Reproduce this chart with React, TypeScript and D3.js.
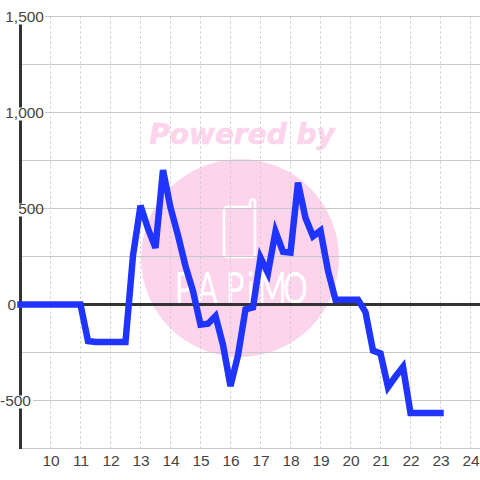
import { useEffect, useRef } from 'react';
import * as d3 from 'd3';

const hours = [
  9, 9.25, 9.5, 9.75, 10, 10.25, 10.5, 10.75, 11, 11.25, 11.5, 11.75, 12, 12.25, 12.5, 12.75,
  13, 13.25, 13.5, 13.75, 14, 14.25, 14.5, 14.75, 15, 15.25, 15.5, 15.75, 16, 16.25, 16.5, 16.75,
  17, 17.25, 17.5, 17.75, 18, 18.25, 18.5, 18.75, 19, 19.25, 19.5, 19.75, 20, 20.25, 20.5, 20.75,
  21, 21.25, 21.5, 21.75, 22, 22.25, 22.5, 22.75, 23,
];
const values = [
  0, 0, 0, 0, 0, 0, 0, 0, 0, -190, -195, -195, -195, -195, -195, 255,
  515, 395, 295, 700, 505, 360, 200, 70, -105, -100, -60, -210, -425, -265, -25, -15,
  245, 165, 380, 275, 270, 635, 450, 355, 385, 175, 25, 25, 25, 25, -40, -240,
  -255, -430, -375, -325, -565, -565, -565, -565, -565,
];
const xTicks = [10, 11, 12, 13, 14, 15, 16, 17, 18, 19, 20, 21, 22, 23, 24];
const yGrid = [-750, -500, -250, 250, 500, 750, 1000, 1250, 1500];
const yLabels = ['-500', '0', '500', '1,000', '1,500'];
const yLabelValues = [-500, 0, 500, 1000, 1500];

const width = 480;
const height = 480;

// letter positions of the squeezed logo word
const logoX = [175, 197, 226, 247, 258, 283];
const logoSqueeze = 0.7;

function App() {
  const svgRef = useRef<SVGSVGElement>(null);

  useEffect(() => {
    if (svgRef.current === null) return;

    const x = d3.scaleLinear().domain([9, 24.33]).range([20.5, 480.4]);
    const y = d3.scaleLinear().domain([-750, 1500]).range([448.5, 16.5]);

    const svg = d3.select(svgRef.current);
    svg.selectAll('*').remove();

    // watermark
    const logo = svg.append('g');
    logo.append('circle').attr('cx', 240).attr('cy', 258).attr('r', 99).attr('fill', '#fcd5ed');
    logo
      .append('text')
      .attr('x', 242)
      .attr('y', 144)
      .attr('text-anchor', 'middle')
      .attr('font-family', 'DejaVu Sans')
      .attr('font-weight', 'bold')
      .attr('font-style', 'italic')
      .attr('font-size', 28)
      .attr('fill', '#fcd5ed')
      .attr('stroke', '#fcd5ed')
      .attr('stroke-width', 0.6)
      .text('Powered by');
    logo
      .append('path')
      .attr('d', 'M228 207h22v-5a2.5 2.5 0 0 1 5 0v52a3 3 0 0 1-3 3h-25a3 3 0 0 1-3-3v-44a3 3 0 0 1 3-3z')
      .attr('fill', 'none')
      .attr('stroke', '#fff')
      .attr('stroke-width', 2.5);
    logo
      .append('text')
      .attr('transform', `scale(${logoSqueeze},1)`)
      .attr('x', logoX.map((d) => d / logoSqueeze).join(' '))
      .attr('y', 304)
      .attr('font-family', 'Lato')
      .attr('font-size', 44)
      .attr('fill', '#fff')
      .text('PAPiMO');

    // grid
    svg
      .append('g')
      .selectAll('line')
      .data(xTicks)
      .join('line')
      .attr('x1', (d) => x(d))
      .attr('x2', (d) => x(d))
      .attr('y1', 16.5)
      .attr('y2', 448.5)
      .attr('stroke', '#c8c8c8')
      .attr('stroke-dasharray', '2,3');
    svg
      .append('g')
      .selectAll('line')
      .data(yGrid)
      .join('line')
      .attr('x1', 20)
      .attr('x2', width)
      .attr('y1', (d) => y(d))
      .attr('y2', (d) => y(d))
      .attr('stroke', '#c8c8c8');

    // axes
    svg
      .append('line')
      .attr('x1', 20.5)
      .attr('x2', 20.5)
      .attr('y1', 24)
      .attr('y2', 449)
      .attr('stroke', '#333')
      .attr('stroke-width', 3);
    svg
      .append('line')
      .attr('x1', 20)
      .attr('x2', width)
      .attr('y1', y(0))
      .attr('y2', y(0))
      .attr('stroke', '#333')
      .attr('stroke-width', 3);

    // y labels sit on a white box that cuts the axis
    const yl = svg.append('g').selectAll('g').data(yLabelValues).join('g');
    yl.append('rect')
      .attr('x', (d) => (d === 0 ? 6 : d < 0 ? 1 : 4))
      .attr('y', (d) => y(d) - 5)
      .attr('width', (d) => (d === 0 ? 12 : d < 0 ? 32 : d === 500 ? 26 : 41))
      .attr('height', 13)
      .attr('fill', '#fff');
    yl.append('text')
      .attr('x', (d) => (d < 0 ? 31 : d === 0 ? 16 : 44))
      .attr('y', (d) => y(d))
      .attr('dy', '0.36em')
      .attr('text-anchor', 'end')
      .attr('font-family', 'Liberation Sans')
      .attr('font-size', 15.5)
      .attr('fill', '#444')
      .text((_, i) => yLabels[i]);

    svg
      .append('g')
      .selectAll('text')
      .data(xTicks)
      .join('text')
      .attr('x', (d) => x(d) + 0.5)
      .attr('y', 466)
      .attr('text-anchor', 'middle')
      .attr('font-family', 'Liberation Sans')
      .attr('font-size', 15.5)
      .attr('fill', '#444')
      .text((d) => d);

    const line = d3
      .line<number>()
      .x((d) => x(d))
      .y((_, i) => y(values[i]));
    svg
      .append('path')
      .attr('d', line(hours))
      .attr('fill', 'none')
      .attr('stroke', '#1f35ff')
      .attr('stroke-width', 6.5)
      .attr('stroke-linecap', 'square')
      .attr('stroke-linejoin', 'miter');
  }, []);

  return (
    <svg
      ref={svgRef}
      width={width}
      height={height}
      style={{ position: 'fixed', left: 0, top: 0, background: '#fff' }}
    />
  );
}

export default App;
